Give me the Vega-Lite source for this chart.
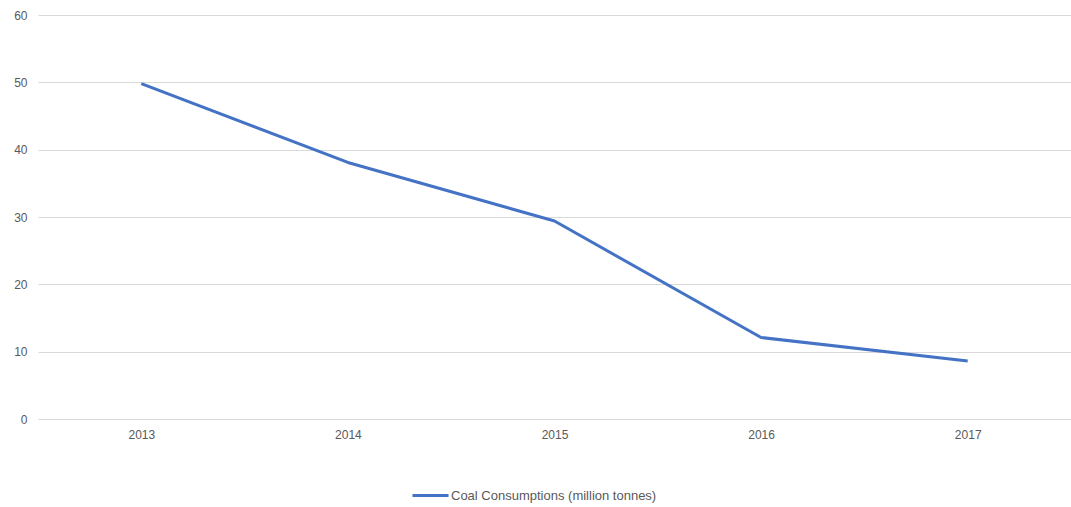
{
  "$schema": "https://vega.github.io/schema/vega-lite/v6.json",
  "width": 1033,
  "height": 404,
  "autosize": "none",
  "padding": {"left": 38, "top": 15, "right": 0, "bottom": 88},
  "background": "white",
  "config": {
    "view": {"stroke": null},
    "font": "Liberation Sans"
  },
  "data": {
    "values": [
      {"year": "2013", "value": 49.8, "series": "Coal Consumptions (million tonnes)"},
      {"year": "2014", "value": 38.1, "series": "Coal Consumptions (million tonnes)"},
      {"year": "2015", "value": 29.4, "series": "Coal Consumptions (million tonnes)"},
      {"year": "2016", "value": 12.1, "series": "Coal Consumptions (million tonnes)"},
      {"year": "2017", "value": 8.6, "series": "Coal Consumptions (million tonnes)"}
    ]
  },
  "mark": {"type": "line", "strokeWidth": 3, "strokeJoin": "round"},
  "encoding": {
    "x": {
      "field": "year",
      "type": "ordinal",
      "scale": {"type": "point", "padding": 0.5},
      "axis": {
        "title": null,
        "labelAngle": 0,
        "ticks": false,
        "domain": false,
        "labelPadding": 10,
        "labelFontSize": 12,
        "labelColor": "#595959",
        "grid": false
      }
    },
    "y": {
      "field": "value",
      "type": "quantitative",
      "scale": {"domain": [0, 60]},
      "axis": {
        "title": null,
        "values": [0, 10, 20, 30, 40, 50, 60],
        "ticks": false,
        "domain": false,
        "labelPadding": 11,
        "labelFontSize": 12,
        "labelColor": "#595959",
        "gridColor": "#d9d9d9",
        "gridWidth": 1
      }
    },
    "color": {
      "field": "series",
      "type": "nominal",
      "scale": {"range": ["#4472c4"]},
      "legend": {
        "title": null,
        "orient": "none",
        "legendX": 373,
        "legendY": 461,
        "symbolType": "stroke",
        "symbolSize": 1296,
        "symbolStrokeWidth": 3,
        "labelFontSize": 13,
        "labelLimit": 400,
        "labelColor": "#595959",
        "labelOffset": 1
      }
    }
  }
}
